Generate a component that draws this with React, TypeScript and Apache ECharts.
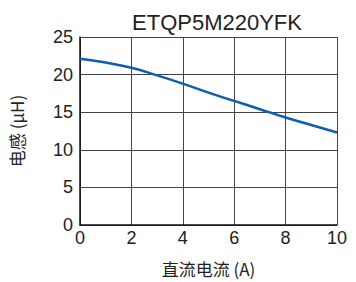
import React, { useEffect, useRef } from "react";
import * as echarts from "echarts";

const title = "ETQP5M220YFK";
const xName = "直流电流 (A)";
const yName = "电感 (μH)";
const currents = [0, 1, 2, 3, 4, 5, 6, 7, 8, 9, 10];
const inductance = [22.1, 21.6, 20.9, 19.9, 18.8, 17.6, 16.5, 15.4, 14.3, 13.3, 12.3];

export default function App() {
  const ref = useRef<HTMLDivElement>(null);
  useEffect(() => {
    if (!ref.current) return;
    const chart = echarts.init(ref.current, null, { renderer: "svg" });
    const font = "Liberation Sans, Arial, sans-serif";
    const cjk = "Noto Sans CJK SC, " + font;
    chart.setOption({
      animation: false,
      backgroundColor: "#ffffff",
      title: {
        text: title,
        left: 212,
        top: 6,
        textAlign: "center",
        textStyle: { fontFamily: font, fontSize: 22, fontWeight: "normal", color: "#222" },
      },
      grid: { left: 76.5, top: 37, right: 19, bottom: 51, containLabel: false },
      xAxis: {
        type: "value",
        min: 0,
        max: 10,
        interval: 2,
        name: xName,
        nameLocation: "middle",
        nameGap: 35,
        nameTextStyle: { fontFamily: cjk, fontSize: 17, color: "#222" },
        axisLine: { show: true, lineStyle: { color: "#111", width: 1.5 } },
        axisTick: { show: false },
        axisLabel: { fontFamily: font, fontSize: 18, color: "#222", margin: 4 },
        splitLine: { show: true, lineStyle: { color: "#444", width: 1 } },
      },
      yAxis: {
        type: "value",
        min: 0,
        max: 25,
        interval: 5,
        name: yName,
        nameLocation: "middle",
        nameGap: 55,
        nameRotate: 90,
        nameTextStyle: { fontFamily: cjk, fontSize: 17, color: "#222" },
        axisLine: { show: true, lineStyle: { color: "#111", width: 1.5 } },
        axisTick: { show: false },
        axisLabel: { fontFamily: font, fontSize: 18, color: "#222", margin: 7 },
        splitLine: { show: true, lineStyle: { color: "#444", width: 1 } },
      },
      series: [
        {
          type: "line",
          data: currents.map((c, i) => [c, inductance[i]]),
          smooth: true,
          showSymbol: false,
          lineStyle: { color: "#0a5fb0", width: 2.5 },
        },
      ],
    });
    return () => chart.dispose();
  }, []);
  return <div ref={ref} style={{ width: 356, height: 282, position: "absolute", left: 0, top: 0 }} />;
}
